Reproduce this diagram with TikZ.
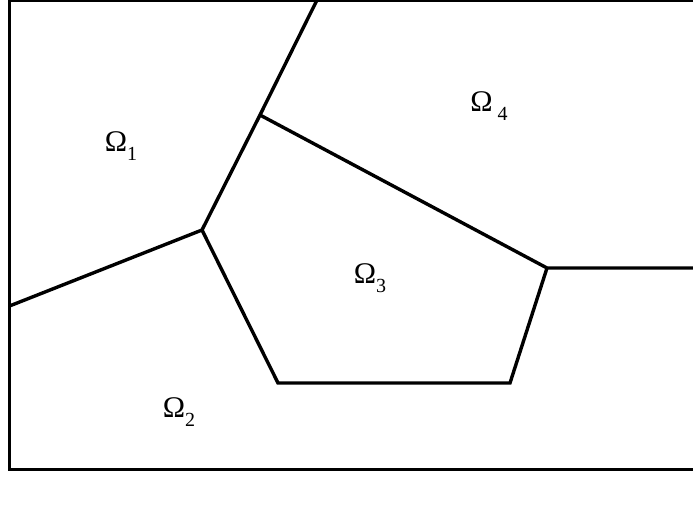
\documentclass[tikz,border=0pt]{standalone}
\usepackage{fontspec}
\setmainfont{Liberation Serif}
\tikzset{
  edge/.style={line width=3.4pt, line cap=butt, line join=miter},
  lbl/.style={inner sep=0pt, font=\fontsize{30}{32}\selectfont}
}
\newcommand{\omsub}[1]{Ω\raisebox{-0.3em}{\fontsize{20}{22}\selectfont #1}}
\begin{document}
\begin{tikzpicture}[x=1pt,y=-1pt]
\useasboundingbox (0,0) rectangle (693,505);
\clip (0,0) rectangle (693,505);
\draw[edge] (9.5,0) rectangle (700,469.5);
\coordinate (T) at (318,-2);
\coordinate (A) at (260,115);
\coordinate (B) at (202,230);
\coordinate (L) at (9.5,306);
\coordinate (C) at (278,383);
\coordinate (D) at (510,383);
\coordinate (E) at (547,268);
\coordinate (R) at (700,268);
\draw[edge] (T) -- (A) -- (B) -- (L);
\draw[edge] (A) -- (E) -- (R);
\draw[edge] (B) -- (C) -- (D) -- (E);
\node[lbl] (o1) at (121,146) {\omsub{1}};
\node[lbl] (o2) at (179,412) {\omsub{2}};
\node[lbl] (o3) at (370,278) {\omsub{3}};
\node[lbl] (o4) at (489,106) {Ω\,\raisebox{-0.3em}{\fontsize{20}{22}\selectfont 4}};
\end{tikzpicture}
\end{document}
